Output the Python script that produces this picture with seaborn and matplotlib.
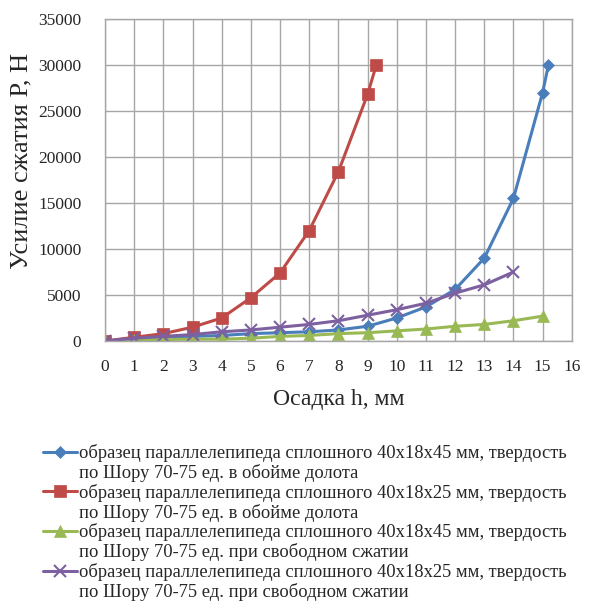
import matplotlib
matplotlib.use("Agg")
import matplotlib.pyplot as plt
from matplotlib.lines import Line2D
import seaborn as sns
import pandas as pd

sns.set_theme(style="white")
plt.rcParams['font.family'] = ['Liberation Serif', 'DejaVu Serif']

x_blue = [0, 1, 2, 3, 4, 5, 6, 7, 8, 9, 10, 11, 12, 13, 14, 15, 15.2]
y_blue = [0, 200, 300, 500, 600, 800, 900, 1000, 1200, 1600, 2500, 3700, 5600, 9000, 15500, 27000, 30000]

x_red = [0, 1, 2, 3, 4, 5, 6, 7, 8, 9, 9.3]
y_red = [0, 400, 800, 1500, 2500, 4700, 7400, 12000, 18400, 26800, 30000]

x_green = [0, 1, 2, 3, 4, 5, 6, 7, 8, 9, 10, 11, 12, 13, 14, 15]
y_green = [0, 100, 150, 200, 200, 300, 500, 600, 800, 900, 1100, 1300, 1600, 1800, 2200, 2700]

x_purple = [0, 1, 2, 3, 4, 5, 6, 7, 8, 9, 10, 11, 12, 13, 14]
y_purple = [0, 300, 500, 700, 1000, 1200, 1500, 1800, 2200, 2800, 3400, 4100, 5200, 6100, 7500]

labels_line1 = [
    "образец параллелепипеда сплошного 40x18x45 мм, твердость",
    "образец параллелепипеда сплошного 40x18x25 мм, твердость",
    "образец параллелепипеда сплошного 40x18x45 мм, твердость",
    "образец параллелепипеда сплошного 40x18x25 мм, твердость",
]
labels_line2 = [
    "по Шору 70-75 ед. в обойме долота",
    "по Шору 70-75 ед. в обойме долота",
    "по Шору 70-75 ед. при свободном сжатии",
    "по Шору 70-75 ед. при свободном сжатии",
]
x_ticks = list(range(0, 17))
y_ticks = [0, 5000, 10000, 15000, 20000, 25000, 30000, 35000]

colors = ["#4A7EBB", "#BE4B48", "#98B954", "#7D60A0"]
markers = ["D", "s", "^", "x"]
msizes = [6, 8.5, 8, 8]

fig = plt.figure(figsize=(6.0, 6.1), dpi=100)
ax = fig.add_axes([0.175, 0.441, 0.778, 0.528])

series = [(x_blue, y_blue), (x_red, y_red), (x_green, y_green), (x_purple, y_purple)]
for (xs, ys), lab, c, m, ms in zip(series, labels_line1, colors, markers, msizes):
    df = pd.DataFrame({"x": xs, "y": ys})
    sns.lineplot(data=df, x="x", y="y", ax=ax, color=c, marker=m, markersize=ms,
                 linewidth=2.2, sort=False, label=lab, markeredgecolor=c,
                 markeredgewidth=1.5 if m == "x" else 0.5)

ax.set_xlim(0, 16)
ax.set_ylim(0, 35000)
ax.set_xticks(x_ticks)
ax.set_yticks(y_ticks)
ax.tick_params(axis='both', labelsize=12.5, length=0)
ax.tick_params(axis='x', pad=13)
ax.tick_params(axis='y', pad=17)
ax.grid(True, color="#A6A6A6", linewidth=1)
for s in ax.spines.values():
    s.set_color("#A6A6A6")
    s.set_linewidth(1)
ax.set_xlabel("Осадка h, мм", fontsize=17, labelpad=10)
ax.set_ylabel("Усилие сжатия Р, Н", fontsize=19)
ax.yaxis.set_label_coords(-0.155, 0.56)

handles, _ = ax.get_legend_handles_labels()
ax.legend_.remove()
leg_handles, leg_labels = [], []
for h, l1, l2 in zip(handles, labels_line1, labels_line2):
    leg_handles += [h, Line2D([], [], color="none")]
    leg_labels += [l1, l2]
fig.legend(leg_handles, leg_labels, loc="upper left", bbox_to_anchor=(0.072, 0.272),
           frameon=False, fontsize=13.3, handlelength=1.85, handletextpad=0.1,
           labelspacing=0.1, borderaxespad=0, borderpad=0)

fig.savefig("out.png", dpi=100)
